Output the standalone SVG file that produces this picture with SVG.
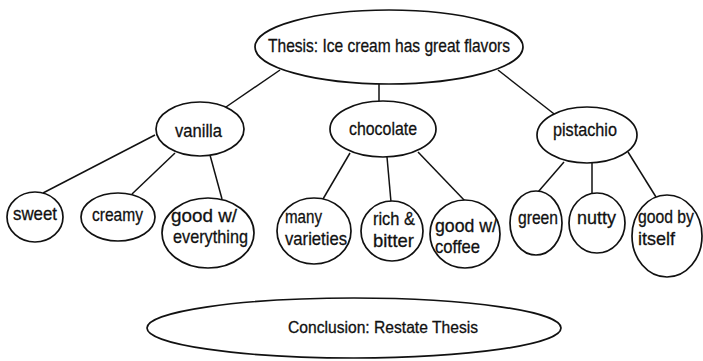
<svg xmlns="http://www.w3.org/2000/svg" width="703" height="361" viewBox="0 0 703 361">
<style>
.n{fill:#fff;stroke:#111;stroke-width:1.7}
.c line{stroke:#111;stroke-width:1.5}
text{font-family:"Liberation Sans",Arial,sans-serif;font-size:19px;fill:#111;stroke:#111;stroke-width:0.3}
.s{font-size:16.5px}
</style>
<rect width="703" height="361" fill="#fff"/>
<g class="c" id="connectors">
<line x1="280" y1="70" x2="226" y2="107"/>
<line x1="379" y1="84" x2="379" y2="102"/>
<line x1="498" y1="70" x2="558" y2="117"/>
<line x1="155" y1="135" x2="43" y2="193"/>
<line x1="175" y1="153" x2="132" y2="194"/>
<line x1="210" y1="155" x2="222" y2="199"/>
<line x1="350" y1="153" x2="323" y2="199"/>
<line x1="387" y1="157" x2="391" y2="202"/>
<line x1="418" y1="152" x2="465" y2="201"/>
<line x1="564" y1="162" x2="538" y2="192"/>
<line x1="592" y1="163" x2="592" y2="194"/>
<line x1="628" y1="152" x2="656" y2="197"/>
</g>
<g id="thesis"><ellipse class="n" cx="389" cy="47" rx="134" ry="37"/><text x="268" y="52" textLength="242" lengthAdjust="spacingAndGlyphs">Thesis: Ice cream has great flavors</text></g>
<g id="vanilla"><ellipse class="n" cx="200" cy="129" rx="44" ry="27"/><text x="175" y="137" textLength="47" lengthAdjust="spacingAndGlyphs">vanilla</text></g>
<g id="chocolate"><ellipse class="n" cx="383" cy="129" rx="53" ry="28"/><text x="349" y="135" textLength="68" lengthAdjust="spacingAndGlyphs">chocolate</text></g>
<g id="pistachio"><ellipse class="n" cx="587" cy="135" rx="50" ry="28"/><text x="553" y="136" textLength="64" lengthAdjust="spacingAndGlyphs">pistachio</text></g>
<g id="sweet"><ellipse class="n" cx="35" cy="217" rx="28" ry="25"/><text x="13" y="220" textLength="44" lengthAdjust="spacingAndGlyphs">sweet</text></g>
<g id="creamy"><ellipse class="n" cx="118" cy="217" rx="37" ry="24"/><text x="92" y="221" textLength="51" lengthAdjust="spacingAndGlyphs">creamy</text></g>
<g id="good-everything"><ellipse class="n" cx="208" cy="233" rx="46" ry="35"/><text x="171" y="222" textLength="66" lengthAdjust="spacingAndGlyphs">good w/</text><text x="173" y="243" textLength="75" lengthAdjust="spacingAndGlyphs">everything</text></g>
<g id="many-varieties"><ellipse class="n" cx="314" cy="231" rx="37" ry="33"/><text x="285" y="223" textLength="37" lengthAdjust="spacingAndGlyphs">many</text><text x="285" y="245" textLength="62" lengthAdjust="spacingAndGlyphs">varieties</text></g>
<g id="rich-bitter"><ellipse class="n" cx="392" cy="231" rx="31" ry="30"/><text x="373" y="225" textLength="42" lengthAdjust="spacingAndGlyphs">rich &amp;</text><text x="373" y="247" textLength="41" lengthAdjust="spacingAndGlyphs">bitter</text></g>
<g id="good-coffee"><ellipse class="n" cx="465" cy="234" rx="35" ry="34"/><text x="435" y="232" textLength="62" lengthAdjust="spacingAndGlyphs">good w/</text><text x="435" y="253" textLength="45" lengthAdjust="spacingAndGlyphs">coffee</text></g>
<g id="green"><ellipse class="n" cx="536" cy="223" rx="26" ry="32"/><text x="518" y="224" textLength="40" lengthAdjust="spacingAndGlyphs">green</text></g>
<g id="nutty"><ellipse class="n" cx="597" cy="223" rx="28" ry="30"/><text x="577" y="224" textLength="39" lengthAdjust="spacingAndGlyphs">nutty</text></g>
<g id="good-itself"><ellipse class="n" cx="667" cy="236" rx="35" ry="41"/><text x="638" y="223" textLength="56" lengthAdjust="spacingAndGlyphs">good by</text><text x="638" y="245" textLength="37" lengthAdjust="spacingAndGlyphs">itself</text></g>
<g id="conclusion"><ellipse class="n" cx="354" cy="328" rx="207" ry="30"/><text class="s" x="288" y="333" textLength="190" lengthAdjust="spacingAndGlyphs">Conclusion: Restate Thesis</text></g>
</svg>
